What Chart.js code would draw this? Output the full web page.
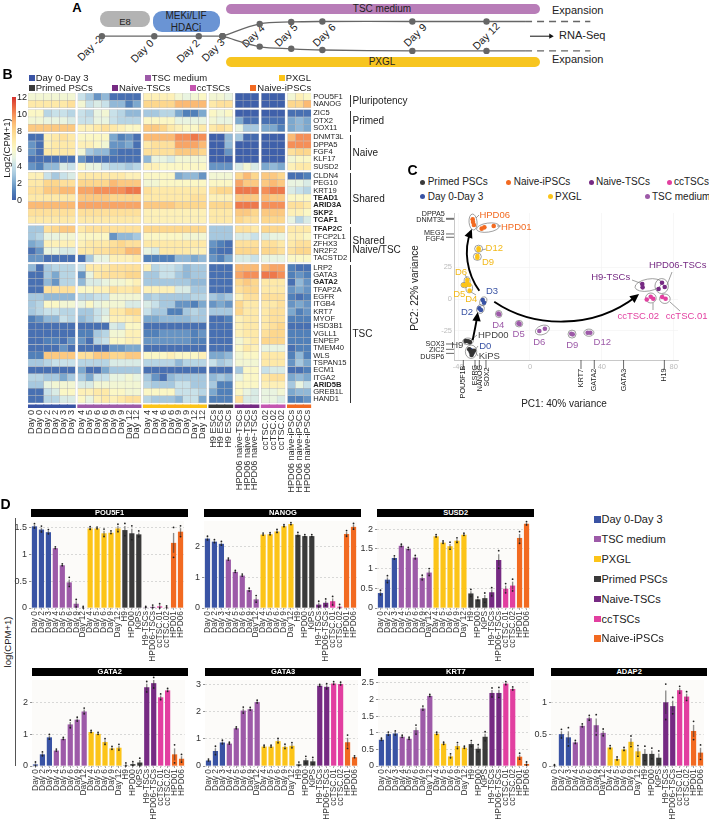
<!DOCTYPE html>
<html>
<head>
<meta charset="utf-8">
<title>Figure</title>
<script src="https://cdn.jsdelivr.net/npm/chart.js@4/dist/chart.umd.js"></script>
<style>
  html, body { margin: 0; padding: 0; background: #fff; }
  #page { position: relative; width: 709px; height: 822px; overflow: hidden; font-family: "Liberation Sans", Arial, sans-serif; color: #222; }
  #page canvas { position: absolute; }
  .txt { position: absolute; white-space: nowrap; line-height: 1; }
  .box { position: absolute; }
</style>
</head>
<body>
<div id="page"></div>
<script>
var page = document.getElementById('page');

var blue = '#3953a4', tscPurple = '#9d5aa8', yellow = '#fcc418', dark = '#3a3a3a', naivePurple = '#762a83', pink = '#e23fa0', orange = '#f26a21';

// ---- data: panel A timeline (schematic position along the line, and branch height)
var mainX = [99, 152, 197, 221];
var mainY = [35, 35, 35, 35];
var branchX = [221, 258.6, 290.5, 322, 413, 488, 527];
var upperY = [35, 21.7, 19.5, 19, 19, 19, 19];
var lowerY = [35, 46.3, 48.7, 50, 51, 51, 51];

// ---- data: panel B heatmap
var geneNames = ['POU5F1','NANOG','ZIC5','OTX2','SOX11','DNMT3L','DPPA5','FGF4','KLF17','SUSD2','CLDN4','PEG10','KRT19','TEAD1','ARID3A','SKP2','TCAF1','TFAP2C','TFCP2L1','ZFHX3','NR2F2','TACSTD2','LRP2','GATA3','GATA2','TFAP2A','EGFR','ITGB4','KRT7','MYOF','HSD3B1','VGLL1','ENPEP','TMEM40','WLS','TSPAN15','ECM1','ITGA2','ARID5B','GREB1L','HAND1'];
var boldGenes = ['TEAD1','ARID3A','SKP2','TCAF1','TFAP2C','GATA2','ARID5B'];
var rowGroupSizes = [2, 3, 5, 7, 5, 19];
var colGroupSizes = [6, 8, 8, 3, 3, 3, 3];
var colGroupColors = [blue, tscPurple, yellow, dark, naivePurple, '#c455b0', orange];
var columnLabels = ['Day 0','Day 0','Day 2','Day 2','Day 3','Day 3','Day 4','Day 5','Day 6','Day 6','Day 9','Day 9','Day 12','Day 12','Day 4','Day 4','Day 6','Day 6','Day 9','Day 9','Day 12','Day 12','H9 ESCs','H9 ESCs','H9 ESCs','HPD06 naive-TSCs','HPD06 naive-TSCs','HPD06 naive-TSCs','ccTSC.02','ccTSC.02','ccTSC.02','HPD06 naive-iPSCs','HPD06 naive-iPSCs','HPD06 naive-iPSCs'];
var heatValues = [
  [5.5,5.5,5.5,5.5,5.5,5.5, 4,3,1.5,2.5,.5,.5,.5,.5, 6.5,6.5,6.5,6.5,5.5,5,5.5,6, 5.5,5.5,5, 0,0,0, 0,0,0, 5.5,6.5,6],
  [7,7,7,7,7,7.5, 5.5,4,4.5,4,2.5,2.5,1,2, 8,8,8,8,9,9,9,9, 7,7.5,7.5, 0,0,0, 0,0,0, 8,8,9],
  [6,6,3.5,4,4,3.5, 4,3.5,5,5.5,4,3.5,2.5,2.5, 3,3,3.5,3.5,2,1,1,2, 6,5.5,6, 0,0,0, 0,0,0, .5,.5,.5],
  [5.5,5.5,5,5,5,4.5, 4,4,5,5,4,3.5,3.5,3.5, 6,6,6,6,5,5,5,5, 5.5,5,5, 2,.5,.5, .5,.5,.5, 2,2.5,2],
  [8.5,8.5,8.5,8.5,8.5,8.5, 6.5,6.5,7,7.5,7,6.5,6,6, 8.5,8.5,8,7,6.5,6,6,7, 7,7.5,7, 5,3,3, 2,2,1, 2,2.5,2],
  [.5,.5,6.5,7,7.5,7, 6,6,6,6,2,1,1.5,.5, 9,9,9,9,10,10,10.5,10, 0,0,2.5, 3,.3,.3, 0,0,0, 9,10,10],
  [1.5,.5,6.5,7,7,7, 6.5,6.5,6,5.5,1.5,1.5,2,.5, 7,7.5,7.5,7.5,9.5,9.5,9.5,9, 0,0,2.5, 0,0,0, 0,0,0, 10,10,10],
  [1.5,.5,7,7,7,7, 5.5,3,2.5,2.5,1,.5,.5,.5, 7.5,7.5,7.5,7.5,8.5,8.5,8.5,8, 0,0,1.5, 0,0,0, 0,0,0, 7.5,8,8],
  [.5,.5,.5,.5,.5,.5, 1.5,.5,.5,.5,.5,.5,.5,.5, 2.5,5,5,4.5,5.5,5.5,5.5,5.5, 0,0,0, 0,0,0, 0,0,0, 5.5,6,6],
  [1.5,1,2.5,2.5,4.5,4, 6,5,5,4,3.5,3.5,3,3.5, 6.5,6.5,6,6,6,6,6,6, 1.5,1.5,1.5, 4.5,5.5,4.5, 2,2.5,2, 6.5,7,7],
  [6.5,6.5,4,3,4,4.5, 7,7,7,7,7,7,6.5,6.5, 6,6,6,6,2,2.5,2.5,1.5, 5.5,5.5,5.5, 8,9,8, 8.5,8.5,8, .5,.5,1],
  [7,7,8,8,7.5,7.5, 8,8,8,8,9,8.5,8.5,8.5, 5.5,5.5,6,6,6,6,6,6, 6,6,6, 9.5,8.5,8.5, 8.5,9,8.5, 5,5,4.5],
  [7.5,7.5,8.5,8.5,9,9, 9.5,9.5,10,10,10,10,10.5,10.5, 7.5,7,7,7,7,7,7,7, 7.5,8,8, 10.5,10.5,10.5, 10,10.5,10.5, 4.5,4,3.5],
  [7,7,7,7,7,7, 8.5,8.5,8.5,8.5,8,8,8,8, 7,7,7,7,7,7,7.5,7.5, 6.5,6.5,6.5, 8.5,8.5,8.5, 9,8.5,8.5, 6,6,6],
  [9,9,9,9,9,9, 9.5,9.5,9.5,9.5,9.5,9.5,9.5,9.5, 8.5,8.5,8.5,8.5,8,8,8,8, 8,8,8, 10.5,10.5,10.5, 10,10,10, 7.5,7.5,7],
  [7.5,7.5,7.5,7.5,7.5,7.5, 7.5,7.5,7.5,7.5,7.5,7.5,7.5,7.5, 6.5,6.5,6.5,6.5,6.5,6.5,6.5,6.5, 7,7,7, 8.5,8.5,8, 8.5,8.5,8.5, 6.5,6.5,6],
  [7,7,7,7,7,7, 7,7,7,7,7,7,7,7, 6.5,6.5,6.5,6.5,6.5,6.5,6.5,6.5, 7,7,7, 8,7.5,7.5, 8,8,8, 5,3.5,4.5],
  [3,3,7.5,8,8.5,8.5, 7,7.5,7.5,7.5,7.5,7.5,7.5,7.5, 8,8,8,8,8,8,8,8, 3,3,3, 7.5,7.5,7, 8,8,8, 7,7,7],
  [3,3.5,5,5,5.5,5.5, 6,6,6,6,1.5,2.5,2.5,3, 6,6,6,6,6,5.5,5.5,5.5, 3,3,3, 4.5,4.5,4, 4.5,5,5, 6.5,6.5,6],
  [2,2.5,6.5,6.5,6.5,6.5, 6.5,7,7,7,7.5,8,7.5,7.5, 7,7,7,7,7,7,7,7, 1.5,1,.5, 7.5,7.5,7.5, 7.5,7.5,7, 7,7.5,7.5],
  [.5,1.5,5,5,4.5,4.5, 7,7,7.5,7.5,8,8,9,9, 5,4.5,7,7,7,7,6.5,6.5, 1,.5,.5, 8,8,8, 8,8,7.5, 7.5,8,8],
  [1.5,1.5,.5,.5,.5,.5, .5,3,5,5,6.5,6.5,6.5,7, 1,1,1,1,2.5,2.5,2,2.5, 1.5,1,2, 4.5,4.5,4, 5,5,5, 6,6,6],
  [2.5,.5,3,3.5,3.5,3.5, 4,7,7,7,7.5,7.5,7.5,7.5, 6.5,3.5,4,4,3.5,2.5,3,3, .5,.5,.5, 9,9,9, 9,9.5,9.5, 1,.5,.5],
  [.5,.5,3,2,3.5,3.5, 1.5,5,7,7.5,7.5,7.5,8,8, 3,3,4,4,3,2.5,3,3, .5,.5,.5, 9.5,10,10, 10.5,10.5,10, 1,1.5,1],
  [.5,.5,2.5,1.5,3.5,3.5, 2.5,4.5,4.5,5,5.5,5.5,6,6.5, 3,3,3,3,3,3,2.5,2.5, .5,.5,.5, 8,8.5,8, 7,7,7, .5,2.5,1.5],
  [.5,.5,7.5,7.5,7.5,7.5, 6,6,6.5,6.5,7.5,7,7,7.5, 6.5,6.5,6.5,6.5,4.5,4.5,3,3, .5,.5,.5, 7.5,8,8, 7,7,7, 1.5,2,1.5],
  [3,3,2.5,2.5,2.5,2.5, 3.5,3.5,4,4,5.5,5.5,5.5,5.5, 3,3.5,3,3,3,3,3.5,3.5, 3,2.5,3, 6.5,7.5,7.5, 7.5,7.5,7.5, 1,.5,1],
  [3,3.5,6,6,5.5,5.5, 5,6,5,5.5,5.5,5.5,4.5,4.5, 4.5,4,3,3,1.5,1.5,1,2, 1.5,2,1.5, 8,7,7, 7,7,7.5, 1.5,2,1.5],
  [3,3.5,4,4,3.5,3.5, 3,3,4,4.5,7,7,8,8, 4,3,3,1,1,3,3.5,3, 3,3,3, 8,7,7, 7,7.5,7.5, 2,1,1.5],
  [1,1.5,2.5,2.5,4,3.5, 2.5,3,4,5,6.5,6.5,6.5,7, 2,2,2.5,2.5,2.5,2.5,3,3, .5,.5,1, 6.5,7,7, 7,7.5,7.5, 1,1,1],
  [.5,.5,.5,.5,.5,.5, .5,.5,.5,.5,4.5,4,6,6, .5,.5,.5,.5,.5,.5,.5,.5, .5,.5,.5, 6.5,7,7, 7,7.5,8, .5,.5,.5],
  [.5,.5,.5,.5,.5,.5, 1,1,3,3.5,5.5,5.5,6.5,6.5, 1,1,1.5,1.5,1.5,1.5,1,1.5, .5,.5,.5, 6.5,7,7, 7.5,8,8, 1,1,1],
  [.5,.5,1,1,.5,1.5, 1.5,.5,3.5,4,6,6,6.5,6.5, 1.5,1.5,1.5,1.5,1.5,1.5,1,1, .5,.5,.5, 5.5,6.5,7, 8,8,8, 1,1,1],
  [.5,.5,.5,.5,1.5,.5, .5,.5,.3,.3,1.5,1.5,2,2, .5,.5,.5,.5,.5,.5,.5,.5, .5,.5,.5, 6,7,6.5, 5,5,5, .5,1,1],
  [1,1,8.5,8.5,8.5,8.5, 7.5,7.5,8.5,8.5,8,8,8.5,8.5, 6,6,6,6.5,6,6,6,6.5, 2,2,2.5, 5.5,6,6, 7,7,7, 1,2.5,1],
  [3,3,3.5,4,4,4, 3.5,3.5,3.5,3.5,4.5,4.5,4.5,4.5, 3.5,3.5,3.5,3.5,2.5,3.5,3.5,3.5, 4,3,3.5, 5.5,5.5,5.5, 7,7,7, 1.5,3,2],
  [.5,.5,.5,.5,.5,.5, 2,.5,.5,2,3,3,3,3, .5,.5,.5,.5,.5,.5,.5,.5, .5,.5,.5, 3,6,6, 4,4.5,4.5, .5,.5,1],
  [3.5,3.5,3,3,2,3, 3,2,4,4,5,5,5.5,5, 3,1.5,.5,2.5,3,3,3,3, 2.5,3,2.5, 5,6,6, 7,7.5,7.5, 2,2.5,2],
  [3,3,5,5.5,5.5,5.5, 4.5,4.5,5.5,5.5,5.5,5.5,5.5,5.5, 3.5,3,3,3,4,4,3,3, 3,1,1, 6,6,6, 6.5,6.5,6.5, 3,5,4],
  [.5,.5,4,4.5,6,6, 6.5,6.5,7,7,6,6,5.5,5.5, 6,6,6,6,4,4,4,3.5, 2,1,1, 6,5,4.5, 5,5,5.5, 2,2.5,2.5],
  [.5,.5,3.5,3.5,4.5,4.5, 6,5,6.5,7,6.5,7,7.5,7.5, 3.5,3,3,3,2.5,4,4,2, 1,1,1, 7.5,4.5,4.5, 5,5,4.5, 1,1,1.5]
];
var heatStops = ['#3f60aa','#5180b9','#7ca8ce','#a6c8df','#c8e1e9','#e9f4e0','#fbf7c5','#fee9a8','#fdd78d','#fbba74','#f58f58','#e7603e','#d5322f'];

// ---- data: panel C PCA scores
var naiveIpscX = [-31.9,-31.7,-31.2,-26.9,-25.4,-20.2];
var naiveIpscY = [62.7,60.6,58.3,55.4,56.4,57.5];
var pxglX = [-28.6,-28.6,-29.3,-29.3,-34.9,-34.9,-37.1,-36,-33.8,-33.6];
var pxglY = [39.9,38.6,33.9,32.5,15,12.8,11,10.8,11,6.6];
var earlyX = [-26.3,-25.6,-28.2,-27.3,-33,-32.3];
var earlyY = [-.8,-2.9,-7.4,-8.7,-40.2,-42.8];
var primedX = [-35.8,-33.4,-34.5,-33.8,-33,-31.9,-31.2,-32.5];
var primedY = [-33,-33.9,-33.3,-39.6,-41.5,-42.3,-40.7,-44];
var tscMediumX = [-17.6,-17.2,-6.4,-5.8,5.2,8.3,23,23.8,32.1,33.6];
var tscMediumY = [-11.5,-12.1,-19.2,-19.6,-25.2,-23.4,-27.4,-27.8,-26.5,-26.5];
var naiveTscX = [62.5,62.7,73.5,71.6,75];
var naiveTscY = [11.8,9.2,12.8,7.9,9.4];
var ccTscX = [67.2,68.6,65,73.6,75.5];
var ccTscY = [1.8,.2,-.4,1.6,.2];
var pcaXTicks = [-40, 0, 40, 80];
var pcaYTicks = [-25, 0, 25];
var rugXValues = [-37.1,-30.6,-28.2,-24.5,28.4,35.8,52.1,74.8];
var rugYValues = [63.5,62.8,51.2,48.6,-35.4,-39.6,-42.8];
// centre x, centre y in PCA units, then radii in px and rotation
var clusterRings = [
  [-31.7,60.6,4,8,-5],[-23.4,56.2,11.5,4.5,-8],[-28.6,39.6,4,3.5,0],[-29.3,33.3,4,3.7,0],
  [-35,13.9,3,4.5,0],[-36.5,11,3.5,2.7,0],[-33.8,8.4,3.3,4.5,0],[-26,-1.8,3.3,4.7,20],[-27.6,-7.9,3.7,4.3,20],
  [-17.4,-11.8,3.3,3.6,0],[-6.1,-19.4,3.7,3.3,0],[6.9,-24.4,7.3,4.5,-20],[23.4,-27.6,4,4,0],[32.8,-26.5,5,3.6,0],
  [-34.5,-33.3,5.3,3.3,0],[-32.8,-41.5,5.7,6.7,0],[65.9,11,13.5,6,-10],[73.3,10.2,6.7,7.5,0],[67.3,.8,5.3,5,0],[75.1,.2,5.3,4.7,0]
];
// leader lines between a label and its ring, page px
var leaderLines = [[479,215,476,218],[501,226,497,226],[486,249,482,250],[465,275,467,278],[476,295,471,292],[477,335,471,340],[464,344,466,343],[478,346,475,350],[478,356,476,353],[632,280,640,283],[672,272,667,285],[653,310,653,303],[670,302,680,311]];

// ---- data: panel D bars
var barLabels = ['Day 0','Day 2','Day 3','Day 4','Day 5','Day 6','Day 9','Day 12','Day 4','Day 5','Day 6','Day 9','Day 12','H9','HPD00','KiPS','H9-TSCs','HPD06-TSCs','ccTSC.01','ccTSC.02','HPD01','HPD06'];
var barColors = [blue,blue,blue,tscPurple,tscPurple,tscPurple,tscPurple,tscPurple,yellow,yellow,yellow,yellow,yellow,dark,dark,dark,naivePurple,naivePurple,pink,pink,orange,orange];

var pou5f1Values = [1.53,1.47,1.42,1.12,.8,.48,.08,.005,1.49,1.49,1.4,1.41,1.49,1.46,1.4,1.38,.01,.02,.03,.01,1.22,1.43];
var pou5f1Errors = [.02,.03,.02,.005,.005,.05,.04,.005,.01,.005,.04,.01,.04,.07,.08,.03,0,.01,.02,.005,.18,.06];
var nanogValues = [2.25,2.15,2.08,1.57,1.17,1.05,.58,.28,2.38,2.39,2.48,2.65,2.72,2.37,2.33,2.33,.11,.17,.22,.04,2.4,2.63];
var nanogErrors = [.03,.02,.03,.01,.01,.01,.02,.06,.01,.01,.02,.01,.01,.03,.01,.01,.05,.06,.08,.03,.05,.05];
var susd2Values = [.38,.72,1.27,1.58,1.5,1.28,.76,.9,1.82,1.66,1.57,1.71,1.86,.37,.22,.25,.4,1.22,.49,.57,1.78,2.14];
var susd2Errors = [.03,.05,.02,.01,.01,.02,.03,.05,.01,.01,.05,.03,.01,.05,.02,.07,.06,.14,.07,.09,.09,.02];
var gata2Values = [.05,.37,.91,.49,.86,1.32,1.47,1.73,1.08,1.02,.76,.56,.58,.02,.06,.11,2.5,2.63,2.18,2.4,.37,.23];
var gata2Errors = [.03,.03,.04,.01,.01,.07,.03,.05,.01,.01,.05,.02,.05,.03,.03,.07,.1,.1,.05,.02,.18,.07];
var gata3Values = [.2,.55,.86,.82,1.38,2.03,2.08,2.34,.71,.71,.91,.7,.74,.06,.21,.17,2.94,2.9,3.02,3,.87,.32];
var gata3Errors = [.01,.09,.03,.01,.01,.06,.02,.02,.01,.01,.04,.04,.05,.03,.07,.07,.01,.05,.02,.02,.15,.01];
var krt7Values = [.79,.96,.98,.88,.82,1.08,1.73,2.11,.97,.67,.29,.6,.55,.66,.52,.88,2.2,2.2,2.48,2.32,.28,.06];
var krt7Errors = [.01,.02,.03,.01,.01,.08,.03,.01,.01,.01,.03,.05,.01,.05,.06,.08,.08,.09,.02,.02,.05,.02];
var adap2Values = [.005,.5,.45,.37,.63,.75,.64,.52,.29,.11,.26,.38,.23,.19,.19,.13,1,.94,1.19,1.09,.55,.21];
var adap2Errors = [0,.04,.09,.01,.01,.02,.1,.03,.01,.01,.01,.05,.05,.07,.05,.06,.18,.08,.03,.04,.09,.07];

var legendNames = ['Day 0-Day 3','TSC medium','PXGL','Primed PSCs','Naive-TSCs','ccTSCs','Naive-iPSCs'];
var legendColors = [blue, tscPurple, yellow, dark, naivePurple, pink, orange];

Chart.defaults.animation = false;
Chart.defaults.font.family = '"Liberation Sans", Arial, sans-serif';
Chart.defaults.plugins.legend.display = false;
Chart.defaults.plugins.tooltip.enabled = false;

// ---- small page helpers
function addText(str, x, y, opts) {
  opts = opts || {};
  var el = document.createElement('span');
  el.className = 'txt';
  el.textContent = str;
  el.style.left = x + 'px';
  el.style.top = y + 'px';
  el.style.fontSize = (opts.size || 10) + 'px';
  el.style.color = opts.color || '#222';
  if (opts.bold) el.style.fontWeight = 'bold';
  var shift = opts.left ? 'translate(0,-50%)' : 'translate(-50%,-50%)';
  el.style.transform = shift + (opts.rot ? ' rotate(' + opts.rot + 'deg)' : '');
  page.appendChild(el);
}
function addBox(x, y, w, h, color, radius) {
  var el = document.createElement('div');
  el.className = 'box';
  el.style.left = x + 'px';
  el.style.top = y + 'px';
  el.style.width = w + 'px';
  el.style.height = h + 'px';
  el.style.background = color;
  if (radius) el.style.borderRadius = radius + 'px';
  page.appendChild(el);
  return el;
}
function addCanvas(x, y, w, h) {
  var c = document.createElement('canvas');
  c.width = w;
  c.height = h;
  c.style.left = x + 'px';
  c.style.top = y + 'px';
  c.style.width = w + 'px';
  c.style.height = h + 'px';
  page.appendChild(c);
  return c;
}
// pins an axis to a fixed thickness so the plot area lands where it should
function fixAxis(size, horizontal) {
  return function (scale) {
    if (horizontal) scale.height = size; else scale.width = size;
    scale.paddingLeft = 0;
    scale.paddingRight = 0;
    scale.paddingTop = 0;
    scale.paddingBottom = 0;
  };
}
function setTicks(values) {
  return function (scale) {
    scale.ticks = values.map(function (v) { return { value: v }; });
  };
}
function heatColor(v) {
  var low = Math.floor(v), high = Math.min(low + 1, 12), t = v - low;
  var a = parseInt(heatStops[low].slice(1), 16), b = parseInt(heatStops[high].slice(1), 16);
  var r = (a >> 16) + ((b >> 16) - (a >> 16)) * t;
  var g = ((a >> 8) & 255) + (((b >> 8) & 255) - ((a >> 8) & 255)) * t;
  var bl = (a & 255) + ((b & 255) - (a & 255)) * t;
  return 'rgb(' + Math.round(r) + ',' + Math.round(g) + ',' + Math.round(bl) + ')';
}
function toPoints(xs, ys) {
  return xs.map(function (x, i) { return { x: x, y: ys[i] }; });
}

// ---- panel A
function drawPanelA() {
  addBox(100, 11, 50, 16.3, '#b3b3b3', 8);
  addBox(153, 11, 66.5, 20.7, '#6a94d4', 9);
  addBox(225.5, 3.7, 314.5, 10, '#b87db8', 5);
  addBox(225.5, 56.7, 314.5, 10, '#f7c520', 5);
  addText('A', 77, 7, { size: 13, bold: true, color: '#000' });
  addText('E8', 125, 22, { size: 9.5 });
  addText('MEKi/LIF', 186, 15.5, { size: 10 });
  addText('HDACi', 186, 27.5, { size: 10 });
  addText('TSC medium', 382, 9, { size: 10 });
  addText('PXGL', 382, 61.7, { size: 10 });
  addText('Expansion', 552, 10, { size: 11, left: true });
  addText('Expansion', 552, 59, { size: 11, left: true });
  addText('RNA-Seq', 559, 35, { size: 11, left: true });
  addText('Day -2', 90, 48.3, { size: 10.5, rot: -45 });
  addText('Day 0', 142, 50.7, { size: 10.5, rot: -45 });
  addText('Day 2', 188, 50.7, { size: 10.5, rot: -45 });
  addText('Day 3', 213, 50, { size: 10.5, rot: -45 });
  addText('Day 4', 253, 36, { size: 10.5, rot: -45 });
  addText('Day 5', 286, 35, { size: 10.5, rot: -45 });
  addText('Day 6', 324, 35, { size: 10.5, rot: -45 });
  addText('Day 9', 414.5, 35, { size: 10.5, rot: -45 });
  addText('Day 12', 486, 36, { size: 10.5, rot: -45 });

  var lineStyle = { borderColor: '#666', borderWidth: 1.3, pointBackgroundColor: '#666', pointBorderWidth: 0, showLine: true };
  var lastHidden = [3.2, 3.2, 3.2, 3.2, 3.2, 3.2, 0];
  new Chart(addCanvas(0, 0, 709, 100), {
    type: 'scatter',
    data: {
      datasets: [
        Object.assign({ data: toPoints(mainX, mainY), pointRadius: 3.2 }, lineStyle),
        Object.assign({ data: toPoints(branchX, upperY), pointRadius: lastHidden, tension: .35 }, lineStyle),
        Object.assign({ data: toPoints(branchX, lowerY), pointRadius: lastHidden, tension: .35 }, lineStyle),
        Object.assign({ data: [{ x: 527, y: 19 }, { x: 593, y: 19 }], pointRadius: 0, borderDash: [7, 5] }, lineStyle),
        Object.assign({ data: [{ x: 527, y: 51 }, { x: 593, y: 51 }], pointRadius: 0, borderDash: [7, 5] }, lineStyle),
        { data: [{ x: 532, y: 35 }, { x: 553, y: 35 }], showLine: true, borderColor: '#111', borderWidth: 1, pointStyle: 'triangle', pointRotation: 90, pointRadius: [0, 3], pointBackgroundColor: '#111', pointBorderWidth: 0 }
      ]
    },
    options: {
      responsive: false,
      layout: { padding: 0 },
      scales: {
        x: { type: 'linear', min: 0, max: 709, display: false },
        y: { type: 'linear', min: 0, max: 100, reverse: true, display: false }
      }
    }
  });
}

// ---- panel B
function drawPanelB() {
  addText('B', 7.5, 74, { size: 14, bold: true, color: '#000' });
  var legend = [
    ['Day 0-Day 3', 31.7, 77.7, blue], ['TSC medium', 147.7, 77.7, tscPurple], ['PXGL', 281.7, 77.7, yellow],
    ['Primed PSCs', 31.7, 88, dark], ['Naive-TSCs', 115, 88, naivePurple], ['ccTSCs', 192.7, 88, '#c455b0'], ['Naive-iPSCs', 253.3, 88, orange]
  ];
  legend.forEach(function (l) {
    addBox(l[1] - 3, l[2] - 3, 6, 6, l[3]);
    addText(l[0], l[1] + 4, l[2], { size: 9.5, left: true });
  });

  // colour key
  var key = addBox(12, 96.7, 4, 103.6, '#000');
  key.style.background = 'linear-gradient(to top,' + heatStops.join(',') + ')';
  [12, 10, 8, 6, 4, 2, 0].forEach(function (t, i) {
    addText(String(t), 17, 96.7 + i * 17.27, { size: 9, left: true });
  });
  addText('Log2(CPM+1)', 6.5, 148, { size: 9.5, rot: -90 });

  // row and column centres with the small gaps between blocks
  var gap = .28, rowCentres = [], colCentres = [], pos = 0;
  rowGroupSizes.forEach(function (n) {
    for (var i = 0; i < n; i++) { rowCentres.push(pos + .5); pos += 1; }
    pos += gap;
  });
  var rowEnd = pos - gap;
  pos = 0;
  var colColors = [];
  colGroupSizes.forEach(function (n, g) {
    for (var i = 0; i < n; i++) { colCentres.push(pos + .5); colColors.push(colGroupColors[g]); pos += 1; }
    pos += .32;
  });
  var colEnd = pos - .32;

  var cells = [], cellColors = [];
  heatValues.forEach(function (row, r) {
    row.forEach(function (v, c) {
      cells.push({ x: colCentres[c], y: [rowCentres[r] - .5, rowCentres[r] + .5] });
      cellColors.push(heatColor(v));
    });
  });
  var stripCells = colCentres.map(function (x) { return { x: x, y: [rowEnd + .25, rowEnd + .68] }; });

  var plotLeft = 27.5, plotTop = 93.3, plotW = 283.2, plotH = 315;
  new Chart(addCanvas(plotLeft, plotTop, 325, 410), {
    type: 'bar',
    data: {
      datasets: [
        { data: cells, backgroundColor: cellColors, borderColor: 'rgba(160,160,160,.6)', borderWidth: .5, borderSkipped: false, barThickness: plotW / colEnd, grouped: false },
        { data: stripCells, backgroundColor: colColors, borderWidth: 0, barThickness: plotW / colEnd + .4, grouped: false }
      ]
    },
    options: {
      responsive: false,
      layout: { padding: 0 },
      scales: {
        x: {
          type: 'linear', min: 0, max: colEnd, offset: false,
          grid: { display: false, drawTicks: false }, border: { display: false },
          afterBuildTicks: setTicks(colCentres),
          afterFit: fixAxis(410 - plotH, true),
          ticks: {
            autoSkip: false, minRotation: 90, maxRotation: 90, padding: 2, color: '#333', font: { size: 9.2 },
            callback: function (v, i) { return columnLabels[i]; }
          }
        },
        y: {
          type: 'linear', position: 'right', reverse: true, min: 0, max: rowEnd + .68,
          grid: { display: false, drawTicks: false }, border: { display: false },
          afterBuildTicks: setTicks(rowCentres),
          afterFit: fixAxis(325 - plotW, false),
          ticks: {
            autoSkip: false, padding: 2, color: '#222',
            font: function (ctx) {
              return { size: 7.6, weight: boldGenes.indexOf(geneNames[ctx.index]) >= 0 ? 'bold' : 'normal' };
            },
            callback: function (v, i) { return geneNames[i]; }
          }
        }
      }
    }
  });

  // signature brackets on the right
  var brackets = [[95, 106.7], [110.7, 131.7], [135, 170], [173.3, 224], [227, 261.7], [265, 403.3]];
  brackets.forEach(function (b) { addBox(350, b[0], .9, b[1] - b[0], '#333'); });
  addText('Pluripotency', 352.5, 100.5, { size: 10, left: true });
  addText('Primed', 352.5, 121, { size: 10, left: true });
  addText('Naive', 352.5, 152.7, { size: 10, left: true });
  addText('Shared', 352.5, 198.7, { size: 10, left: true });
  addText('Shared', 352.5, 240.7, { size: 10, left: true });
  addText('Naive/TSC', 352.5, 249.5, { size: 10, left: true });
  addText('TSC', 352.5, 334.3, { size: 10, left: true });
}

// ---- panel C
function drawPanelC() {
  addText('C', 412.5, 170, { size: 14, bold: true, color: '#000' });
  var legend = [
    ['Primed PSCs', 422.7, 182.3, dark], ['Naive-iPSCs', 508.7, 182.3, orange], ['Naive-TSCs', 591, 182.3, naivePurple], ['ccTSCs', 669, 182.3, pink],
    ['Day 0-Day 3', 422.7, 196.7, blue], ['PXGL', 550, 196.7, yellow], ['TSC medium', 647, 196.7, tscPurple]
  ];
  legend.forEach(function (l) {
    addBox(l[1] - 2.5, l[2] - 2.5, 5, 5, l[3], 3);
    addText(l[0], l[1] + 5, l[2], { size: 10, left: true });
  });

  var canvasLeft = 400, canvasTop = 200;
  var chartDecor = {
    id: 'chartDecor',
    beforeDatasetsDraw: function (chart) {
      var ctx = chart.ctx, sx = chart.scales.x, sy = chart.scales.y, area = chart.chartArea;
      ctx.save();
      // gene rug on both axes
      ctx.strokeStyle = '#444';
      ctx.lineWidth = .8;
      rugXValues.forEach(function (v) {
        ctx.beginPath();
        ctx.moveTo(sx.getPixelForValue(v), area.bottom);
        ctx.lineTo(sx.getPixelForValue(v), area.bottom + 9);
        ctx.stroke();
      });
      rugYValues.forEach(function (v) {
        ctx.beginPath();
        ctx.moveTo(area.left, sy.getPixelForValue(v));
        ctx.lineTo(area.left - 8, sy.getPixelForValue(v));
        ctx.stroke();
      });
      // rings round the sample clusters
      ctx.strokeStyle = '#777';
      ctx.lineWidth = .7;
      clusterRings.forEach(function (r) {
        ctx.beginPath();
        ctx.ellipse(sx.getPixelForValue(r[0]), sy.getPixelForValue(r[1]), r[2], r[3], r[4] * Math.PI / 180, 0, Math.PI * 2);
        ctx.stroke();
      });
      leaderLines.forEach(function (l) {
        ctx.beginPath();
        ctx.moveTo(l[0] - canvasLeft, l[1] - canvasTop);
        ctx.lineTo(l[2] - canvasLeft, l[3] - canvasTop);
        ctx.stroke();
      });
      // trajectory arrows
      function arrow(p0, p1, p2, p3) {
        var x = function (v) { return sx.getPixelForValue(v); }, y = function (v) { return sy.getPixelForValue(v); };
        ctx.strokeStyle = '#000';
        ctx.lineWidth = 1.9;
        ctx.beginPath();
        ctx.moveTo(x(p0[0]), y(p0[1]));
        ctx.bezierCurveTo(x(p1[0]), y(p1[1]), x(p2[0]), y(p2[1]), x(p3[0]), y(p3[1]));
        ctx.stroke();
        var a = Math.atan2(y(p3[1]) - y(p2[1]), x(p3[0]) - x(p2[0]));
        ctx.fillStyle = '#000';
        ctx.save();
        ctx.translate(x(p3[0]), y(p3[1]));
        ctx.rotate(a);
        ctx.beginPath();
        ctx.moveTo(3, 0);
        ctx.lineTo(-6, 4.2);
        ctx.lineTo(-6, -4.2);
        ctx.closePath();
        ctx.fill();
        ctx.restore();
      }
      arrow([-28.2, 6.5], [-35.2, 20.2], [-37.1, 38.6], [-33, 53]);
      arrow([-19.9, -2.1], [1.8, -23], [35.2, -24.4], [59.4, 2.4]);
      arrow([-31.9, -32.3], [-31.2, -27], [-30, -20], [-29.3, -12.6]);
      ctx.restore();
    }
  };

  function scoreSet(xs, ys, color) {
    return { data: toPoints(xs, ys), backgroundColor: color, borderWidth: 0, pointRadius: 2.3 };
  }
  new Chart(addCanvas(canvasLeft, canvasTop, 309, 230), {
    type: 'scatter',
    data: {
      datasets: [
        scoreSet(primedX, primedY, '#333'),
        scoreSet(earlyX, earlyY, blue),
        scoreSet(pxglX, pxglY, yellow),
        scoreSet(tscMediumX, tscMediumY, tscPurple),
        scoreSet(naiveIpscX, naiveIpscY, orange),
        scoreSet(naiveTscX, naiveTscY, naivePurple),
        scoreSet(ccTscX, ccTscY, pink)
      ]
    },
    plugins: [chartDecor],
    options: {
      responsive: false,
      layout: { padding: { top: 13, right: 31, left: 0, bottom: 0 } },
      scales: {
        x: {
          type: 'linear', min: -42.3, max: 82.4,
          grid: { color: '#f3f3f3', lineWidth: .7, drawTicks: false }, border: { color: '#c8c8c8' },
          afterBuildTicks: setTicks(pcaXTicks),
          afterFit: fixAxis(70, true),
          ticks: { color: '#bbb', font: { size: 7.5 }, padding: 2, callback: function (v) { return String(v); } }
        },
        y: {
          type: 'linear', min: -48, max: 67.7,
          grid: { color: '#f3f3f3', lineWidth: .7, drawTicks: false }, border: { color: '#c8c8c8' },
          afterBuildTicks: setTicks(pcaYTicks),
          afterFit: fixAxis(54, false),
          ticks: { color: '#bbb', font: { size: 7.5 }, padding: 2, callback: function (v) { return String(v); } }
        }
      }
    }
  });

  var labels = [
    ['HPD06', 494.7, 215, orange], ['HPD01', 516.3, 226.7, orange],
    ['D12', 494.3, 248, '#f2b91a'], ['D9', 488, 261.7, '#f2b91a'], ['D6', 461, 271.7, '#f2b91a'], ['D5', 459.3, 293.7, '#f2b91a'], ['D4', 471.3, 299.3, '#f2b91a'],
    ['D3', 492, 291.3, blue], ['D2', 467, 312, blue], ['D0', 485.3, 346, blue],
    ['HPD00', 493.3, 335.3, '#444'], ['H9', 457.3, 344.7, '#444'], ['KiPS', 489.3, 356.3, '#444'],
    ['D4', 498.3, 324.7, tscPurple], ['D5', 518.7, 334.3, tscPurple], ['D6', 539.3, 341.7, tscPurple], ['D9', 572.3, 345, tscPurple], ['D12', 602.3, 342.3, tscPurple],
    ['H9-TSCs', 610.7, 276.7, naivePurple], ['HPD06-TSCs', 677.7, 264.7, naivePurple],
    ['ccTSC.02', 638.3, 315.7, pink], ['ccTSC.01', 686.7, 315.7, pink]
  ];
  labels.forEach(function (l) { addText(l[0], l[1], l[2], { size: 9.5, color: l[3] }); });

  var leftGenes = [['DPPA5', 433.3, 214], ['DNMT3L', 430.7, 220.3], ['MEG3', 434.3, 232.7], ['FGF4', 435, 239.3], ['SOX3', 435, 344], ['ZIC2', 436.7, 349.7], ['DUSP6', 432.3, 356.7]];
  leftGenes.forEach(function (g) { addText(g[0], g[1], g[2], { size: 7.2 }); });
  var bottomGenes = [['POU5F1B', 462.7, 381.7], ['ESRG', 475, 375], ['NANOG', 480.3, 378], ['SOX2', 487.3, 376.7], ['KRT7', 581, 378.3], ['GATA2', 594.3, 380], ['GATA3', 623.7, 380], ['H19', 664.3, 375]];
  bottomGenes.forEach(function (g) { addText(g[0], g[1], g[2], { size: 7.2, rot: -90 }); });
  addText('PC1: 40% variance', 564, 403.7, { size: 10 });
  addText('PC2: 22% variance', 415, 288.3, { size: 10, rot: -90 });
}

// ---- panel D
var panelFill = {
  id: 'panelFill',
  beforeDraw: function (chart) {
    var a = chart.chartArea;
    chart.ctx.fillStyle = '#fcfbf9';
    chart.ctx.fillRect(a.left, a.top, a.right - a.left, a.bottom - a.top);
  }
};

function drawBarPanel(name, values, errors, left, right, stripTop, zeroY, yMax, yTicks) {
  addBox(left, stripTop, right - left, 7.7, '#000');
  addText(name, (left + right) / 2, stripTop + 4, { size: 7.5, color: '#fff', bold: true });

  var axisWidth = 26, top = stripTop + 7.7, plotH = zeroY - top, axisH = 62;
  var canvas = addCanvas(left - axisWidth, top, Math.round(right - left + axisWidth), Math.round(plotH + axisH));
  var whiskers = values.map(function (v, i) { return [v - errors[i], v + errors[i]]; });
  var highDots = values.map(function (v, i) { return v + errors[i] * 1.5 + .012 * yMax; });
  var lowDots = values.map(function (v, i) { return Math.max(v - errors[i] * 1.5, 0); });

  new Chart(canvas, {
    type: 'bar',
    data: {
      labels: barLabels,
      datasets: [
        { data: values, backgroundColor: barColors, barPercentage: .75, categoryPercentage: 1, grouped: false, order: 3 },
        { data: whiskers, backgroundColor: 'rgba(50,50,50,.55)', barThickness: .7, grouped: false, order: 2 },
        { type: 'line', data: highDots, showLine: false, pointRadius: .9, pointBorderWidth: 0, pointBackgroundColor: '#222', clip: false, order: 1 },
        { type: 'line', data: lowDots, showLine: false, pointRadius: .9, pointBorderWidth: 0, pointBackgroundColor: '#222', clip: false, order: 1 }
      ]
    },
    plugins: [panelFill],
    options: {
      responsive: false,
      layout: { padding: 0 },
      scales: {
        x: {
          grid: { display: true, drawOnChartArea: false, tickLength: 2, color: '#666', lineWidth: .6, offset: false },
          border: { display: false },
          afterFit: fixAxis(axisH, true),
          ticks: { autoSkip: false, minRotation: 90, maxRotation: 90, padding: 1, color: '#333', font: { size: 8.4 } }
        },
        y: {
          type: 'linear', min: 0, max: yMax,
          grid: { color: '#c9c9c9', lineWidth: .7, tickLength: 2, tickColor: '#666' },
          border: { display: false, dash: [2, 2] },
          afterBuildTicks: setTicks(yTicks),
          afterFit: fixAxis(axisWidth, false),
          ticks: { color: '#333', font: { size: 9 }, padding: 2, callback: function (v) { return String(v); } }
        }
      }
    }
  });
}

function drawPanelD() {
  addText('D', 5.5, 504, { size: 14, bold: true, color: '#000' });
  addBox(15.3, 518, .9, 248, '#555');
  addText('log(CPM+1)', 7.5, 642, { size: 9.5, rot: -90 });

  drawBarPanel('POU5F1', pou5f1Values, pou5f1Errors, 31, 188, 509, 607.3, 1.63, [0, .5, 1, 1.5]);
  drawBarPanel('NANOG', nanogValues, nanogErrors, 204.3, 361.5, 509, 607.3, 2.82, [0, 1, 2]);
  drawBarPanel('SUSD2', susd2Values, susd2Errors, 377.3, 534, 509, 607.3, 2.21, [0, .5, 1, 1.5, 2]);
  drawBarPanel('GATA2', gata2Values, gata2Errors, 31.5, 188, 668, 765.7, 2.73, [0, 1, 2]);
  drawBarPanel('GATA3', gata3Values, gata3Errors, 204.7, 361.5, 668, 765.7, 3.15, [0, 1, 2, 3]);
  drawBarPanel('KRT7', krt7Values, krt7Errors, 377.7, 534, 668, 765.7, 2.59, [0, .5, 1, 1.5, 2, 2.5]);
  drawBarPanel('ADAP2', adap2Values, adap2Errors, 550.7, 707.5, 668, 765.7, 1.35, [0, .5, 1]);

  legendNames.forEach(function (name, i) {
    var y = 519 + i * 19.9;
    addBox(594, y - 3, 6.5, 6.5, legendColors[i]);
    addText(name, 601.5, y, { size: 11, left: true });
  });
}

drawPanelA();
drawPanelB();
drawPanelC();
drawPanelD();
</script>
</body>
</html>
